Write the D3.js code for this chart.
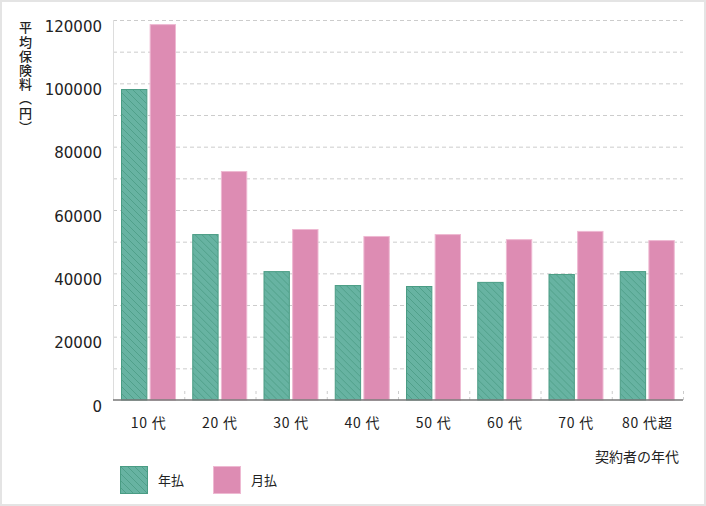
<!DOCTYPE html>
<html>
<head>
<meta charset="utf-8">
<script src="https://cdn.jsdelivr.net/npm/d3@7"></script>
<style>
	body { margin: 0; background: #fff; }
	svg { display: block; }
	svg text { font-family: "Noto Sans CJK JP", "DejaVu Sans", sans-serif; }
	svg text.num { font-family: "DejaVu Sans", sans-serif; }
</style>
</head>
<body>
<svg id="chart" width="706" height="506"></svg>
<script>
// data
const categories = ["10 代", "20 代", "30 代", "40 代", "50 代", "60 代", "70 代", "80 代超"]
const series = ["年払", "月払"]
const annual = [98200, 52400, 40700, 36300, 36000, 37300, 39800, 40700]
const monthly = [118700, 72300, 54000, 51800, 52400, 50800, 53400, 50500]
const yTicks = [0, 20000, 40000, 60000, 80000, 100000, 120000]
const yGrid = d3.range(10000, 120001, 10000)

var svg = d3.select("#chart"),
	plotLeft = 113, plotRight = 683, plotTop = 20, plotBottom = 400

// frame
svg.append("rect")
	.attr("x", 1).attr("y", 1)
	.attr("width", 704).attr("height", 504)
	.attr("fill", "#fff")
	.attr("stroke", "#e4e4e4")
	.attr("stroke-width", 2)

// hatch pattern for 年払
var defs = svg.append("defs")
var pat = defs.append("pattern")
	.attr("id", "hatch")
	.attr("patternUnits", "userSpaceOnUse")
	.attr("width", 7).attr("height", 7)
pat.append("rect").attr("width", 7).attr("height", 7).attr("fill", "#67b3a2")
pat.append("path")
	.attr("d", "M-1,-1 L8,8 M-1,6 L1,8 M6,-1 L8,1")
	.attr("stroke", "#50a08a")
	.attr("stroke-width", 1)

var x0 = d3.scaleBand().domain(categories).range([plotLeft, plotRight]).padding(0),
	x1 = d3.scaleBand().domain(series).range([8, 63]).paddingInner(0.08),
	yScale = d3.scaleLinear().domain([0, 120000]).range([plotBottom, plotTop])

var fills = {"年払": "url(#hatch)", "月払": "#dd8cb3"}
var strokes = {"年払": "#4a9c84", "月払": "#eeb9d2"}

// dashed grid lines
svg.append("g")
	.selectAll("line")
	.data(yGrid)
	.enter().append("line")
	.attr("x1", plotLeft).attr("x2", plotRight)
	.attr("y1", d => yScale(d) + 0.5).attr("y2", d => yScale(d) + 0.5)
	.attr("stroke", "#cccccc")
	.attr("stroke-dasharray", "4,3")

// left axis line
svg.append("line")
	.attr("x1", plotLeft + 0.5).attr("x2", plotLeft + 0.5)
	.attr("y1", plotTop).attr("y2", plotBottom)
	.attr("stroke", "#dddddd")

// y tick labels
svg.append("g")
	.attr("transform", "translate(" + (plotLeft - 11) + ",0)")
	.call(d3.axisLeft(yScale).tickValues(yTicks).tickSize(0).tickPadding(0).tickFormat(d => d))
	.call(g => g.select(".domain").remove())
	.selectAll("text")
	.attr("class", "num")
	.attr("dy", "0.75em")
	.attr("font-size", "15px")
	.attr("fill", "#222")

// bars
var data = categories.map((c, i) => ({cat: c, values: [
	{key: "年払", value: annual[i]},
	{key: "月払", value: monthly[i]}
]}))

svg.append("g")
	.selectAll("g")
	.data(data)
	.enter().append("g")
	.attr("transform", d => "translate(" + x0(d.cat) + ",0)")
	.selectAll("rect")
	.data(d => d.values)
	.enter().append("rect")
	.attr("x", d => x1(d.key) + 0.5)
	.attr("y", d => yScale(d.value) + 0.5)
	.attr("width", x1.bandwidth() - 1)
	.attr("height", d => plotBottom - yScale(d.value) - 0.5)
	.attr("fill", d => fills[d.key])
	.attr("stroke", d => strokes[d.key])
	.attr("stroke-width", 1)

// small dashed ticks at band boundaries
svg.append("g")
	.selectAll("line")
	.data(categories.slice(1).concat(["end"]))
	.enter().append("line")
	.attr("x1", d => (d === "end" ? plotRight : x0(d)) + 0.5)
	.attr("x2", d => (d === "end" ? plotRight : x0(d)) + 0.5)
	.attr("y1", plotBottom - 9).attr("y2", plotBottom)
	.attr("stroke", "#cccccc")
	.attr("stroke-dasharray", "3,3")

// bottom axis
svg.append("g")
	.attr("transform", "translate(0," + plotBottom + ")")
	.call(d3.axisBottom(x0).tickSize(0).tickPadding(18))
	.call(g => g.select(".domain").attr("stroke", "#777").attr("stroke-width", 1.5).attr("d", "M" + plotLeft + ",0H" + plotRight))
	.selectAll("text")
	.attr("font-size", "14px")
	.attr("letter-spacing", "0.8px")
	.attr("fill", "#222")

// axis titles
svg.append("text")
	.attr("x", 679).attr("y", 462)
	.attr("text-anchor", "end")
	.attr("font-size", "14px")
	.attr("fill", "#222")
	.text("契約者の年代")

svg.append("text")
	.attr("x", 25.5).attr("y", 21)
	.style("writing-mode", "vertical-rl")
	.attr("letter-spacing", "1.2px")
	.attr("font-size", "13px")
	.attr("font-weight", "500")
	.attr("fill", "#222")
	.text("平均保険料（円）")

// legend
var legend = svg.append("g")
	.selectAll("g")
	.data(series)
	.enter().append("g")
	.attr("transform", (d, i) => "translate(" + (120 + i * 93) + ",466)")
legend.append("rect")
	.attr("x", 0.5).attr("y", 0.5)
	.attr("width", 27).attr("height", 27)
	.attr("fill", d => fills[d])
	.attr("stroke", d => strokes[d])
legend.append("text")
	.attr("x", 38).attr("y", 19)
	.attr("font-size", "13px")
	.attr("fill", "#222")
	.text(d => d)
</script>
</body>
</html>
